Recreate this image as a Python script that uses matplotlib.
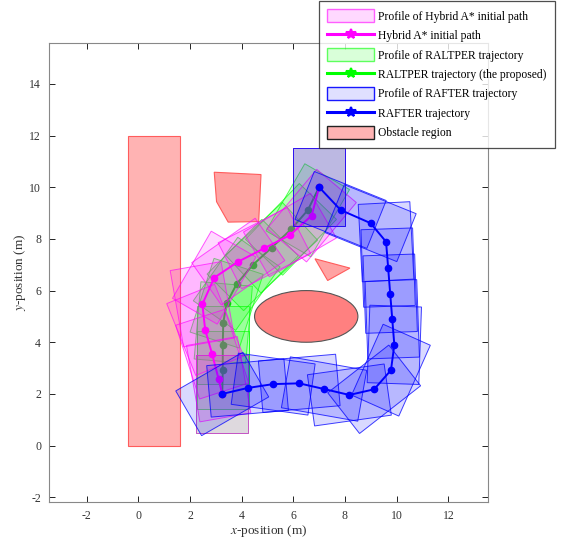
import matplotlib
matplotlib.use("Agg")
import matplotlib.pyplot as plt
from matplotlib.patches import Rectangle, Polygon, Ellipse, Patch
from matplotlib.lines import Line2D

plt.rcParams['font.family'] = ['Liberation Serif', 'DejaVu Serif']
plt.rcParams['mathtext.fontset'] = 'stix'
plt.rcParams['axes.unicode_minus'] = False

# vehicle footprint (length along heading, width across)
CAR_L, CAR_W = 3.0, 2.0

# Hybrid A* initial path: x, y, heading (deg)
hyb_x = [3.25, 3.11, 2.86, 2.59, 2.48, 2.94, 3.87, 4.88, 5.87, 6.71, 7.00]
hyb_y = [2.00, 2.57, 3.54, 4.48, 5.47, 6.50, 7.12, 7.64, 8.15, 8.90, 10.00]
hyb_h = [90, 100, 108, 112, 100, 60, 35, 27, 30, 50, 90]

# RALTPER trajectory (the proposed)
ral_x = [3.25, 3.27, 3.27, 3.29, 3.42, 3.81, 4.43, 5.16, 5.91, 6.56, 7.00]
ral_y = [2.00, 2.93, 3.90, 4.76, 5.51, 6.26, 6.99, 7.66, 8.37, 9.11, 10.00]
ral_h = [90, 90, 90, 85, 72, 55, 45, 43, 46, 60, 90]

# RAFTER trajectory
raf_x = [3.25, 4.23, 5.22, 6.23, 7.19, 8.17, 9.13, 9.78, 9.91, 9.83, 9.75, 9.67, 9.59, 8.99, 7.83, 7.00]
raf_y = [2.00, 2.23, 2.38, 2.41, 2.19, 1.96, 2.18, 2.92, 3.90, 4.89, 5.88, 6.89, 7.89, 8.61, 9.12, 10.00]
raf_h = [30, 5, -8, 5, -10, 8, 38, 66, 88, 92, 92, 92, 93, -22, -22, 90]

# obstacles
wall_x, wall_y, wall_w, wall_h = -0.4, 0.0, 2.0, 12.0
pent_pts = [(2.94, 10.58), (4.75, 10.49), (4.66, 8.67), (3.48, 8.65), (3.03, 9.44)]
tri_pts = [(6.84, 7.23), (8.19, 6.87), (7.33, 6.39)]
ell_c, ell_w, ell_h = (6.5, 5.0), 4.0, 2.0

fig = plt.figure(figsize=(5.62, 5.44), dpi=100)
ax = fig.add_axes([0.0877, 0.0778, 0.7801, 0.8426])

obs_face, obs_edge = '#ffb3b3', '#ff5c5c'
ax.add_patch(Rectangle((wall_x, wall_y), wall_w, wall_h, fc=obs_face, ec=obs_edge, lw=0.8, zorder=1))
ax.add_patch(Polygon(pent_pts, closed=True, fc='#ffa3a3', ec=obs_edge, lw=0.8, zorder=1))
ax.add_patch(Polygon(tri_pts, closed=True, fc='#ffa3a3', ec=obs_edge, lw=0.8, zorder=1))
ax.add_patch(Ellipse(ell_c, ell_w, ell_h, fc='#ff8080', ec='#555555', lw=0.8, zorder=1))


def draw_profile(xs, ys, hs, rgb, z, ea=0.65):
    for x, y, h in zip(xs, ys, hs):
        ax.add_patch(Rectangle((x - CAR_L / 2, y - CAR_W / 2), CAR_L, CAR_W,
                               angle=h, rotation_point='center',
                               fc=rgb + (0.15,), ec=rgb + (ea,), lw=0.7, zorder=z))


def draw_path(xs, ys, color, z):
    ax.plot(xs, ys, '-', color=color, lw=1.4, marker='o', ms=4.5,
            mfc=color, mec=color, zorder=z)


GREEN = (0.0, 1.0, 0.0)
MAGENTA = (1.0, 0.0, 1.0)
BLUE = (0.0, 0.0, 1.0)

draw_profile(ral_x, ral_y, ral_h, GREEN, 2)
draw_path(ral_x, ral_y, '#00dd00', 3)
draw_profile(hyb_x, hyb_y, hyb_h, MAGENTA, 4)
draw_path(hyb_x, hyb_y, '#ff00ff', 5)
draw_profile(raf_x, raf_y, raf_h, BLUE, 6, ea=0.75)
draw_path(raf_x, raf_y, '#0000ff', 7)

ax.set_xlim(-3.44, 13.52)
ax.set_ylim(-2.17, 15.57)
ax.set_aspect('equal', adjustable='box')
ax.set_xticks([-2, 0, 2, 4, 6, 8, 10, 12])
ax.set_yticks([-2, 0, 2, 4, 6, 8, 10, 12, 14])
ax.tick_params(direction='in', length=4, width=0.7, top=True, right=True,
               labelsize=8.5, labelcolor='#333333', color='#222222', pad=6)
for s in ax.spines.values():
    s.set_color('#888888')
    s.set_linewidth(0.8)
ax.set_xlabel('$x$-position (m)', fontsize=9.5, color='#333333', labelpad=1)
ax.set_ylabel('$y$-position (m)', fontsize=9.5, color='#333333', labelpad=1)

handles = [
    Patch(fc=MAGENTA + (0.15,), ec=MAGENTA + (0.6,), lw=1.0),
    Line2D([], [], color='#ff00ff', lw=2.2, marker='*', ms=7, mew=1.5),
    Patch(fc=GREEN + (0.15,), ec=GREEN + (0.6,), lw=1.0),
    Line2D([], [], color='#00ff00', lw=2.2, marker='*', ms=7, mew=1.5),
    Patch(fc=BLUE + (0.12,), ec=BLUE + (0.9,), lw=1.0),
    Line2D([], [], color='#0000ff', lw=2.2, marker='*', ms=7, mew=1.5),
    Patch(fc=obs_face, ec='#222222', lw=1.0),
]
labels = ['Profile of Hybrid A* initial path', 'Hybrid A* initial path',
          'Profile of RALTPER trajectory', 'RALTPER trajectory (the proposed)',
          'Profile of RAFTER trajectory', 'RAFTER trajectory', 'Obstacle region']
leg = fig.legend(handles, labels, loc='upper left', bbox_to_anchor=(319 / 562, 1 - 1 / 544),
                 fontsize=8.4, frameon=True, fancybox=False, edgecolor='#222222',
                 handlelength=4.0, handleheight=1.3, labelspacing=0.53,
                 handletextpad=0.35, borderpad=0.72, borderaxespad=0.0)
leg.get_frame().set_linewidth(0.9)
leg.set_zorder(20)

fig.savefig('out.png', dpi=100)
